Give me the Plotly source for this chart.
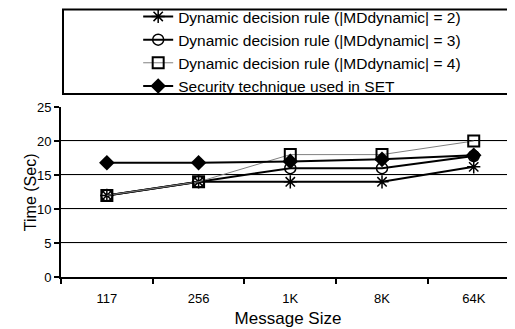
import plotly.graph_objects as go

categories = ["117", "256", "1K", "8K", "64K"]
md2 = [12, 14, 14, 14, 16.2]
md3 = [12, 14, 16, 16, 17.8]
md4 = [12, 14, 18, 18, 20]
set_tech = [16.8, 16.8, 17.0, 17.3, 17.9]
series_names = [
    "Dynamic decision rule (|MDdynamic| = 2)",
    "Dynamic decision rule (|MDdynamic| = 3)",
    "Dynamic decision rule (|MDdynamic| = 4)",
    "Security technique used in SET",
]
y_ticks = [0, 5, 10, 15, 20, 25]
grid_values = [5, 10, 15, 20]

FONT = "Liberation Sans, Arial, sans-serif"

fig = go.Figure()
fig.add_trace(go.Scatter(
    x=categories, y=md2, name=series_names[0], mode="lines+markers",
    line=dict(color="black", width=2),
    marker=dict(symbol="asterisk-open", size=11, color="black", line=dict(color="black", width=1.5)),
))
fig.add_trace(go.Scatter(
    x=categories, y=md3, name=series_names[1], mode="lines+markers",
    line=dict(color="black", width=2),
    marker=dict(symbol="circle-open", size=11, color="black", line=dict(color="black", width=1.5)),
))
fig.add_trace(go.Scatter(
    x=categories, y=md4, name=series_names[2], mode="lines+markers",
    line=dict(color="#808080", width=1),
    marker=dict(symbol="square-open", size=11, color="black", line=dict(color="black", width=2)),
))
fig.add_trace(go.Scatter(
    x=categories, y=set_tech, name=series_names[3], mode="lines+markers",
    line=dict(color="black", width=2),
    marker=dict(symbol="diamond", size=12, color="black"),
))

for g in grid_values:
    fig.add_shape(type="line", xref="paper", x0=0, x1=1, yref="y", y0=g, y1=g,
                  line=dict(color="black", width=2), layer="below")

# legend frame
fig.add_shape(type="rect", xref="paper", yref="paper",
              x0=0.0044, x1=0.998, y0=1.076, y1=1.574,
              line=dict(color="black", width=2))

fig.add_annotation(text="Time (Sec)", xref="paper", yref="paper",
                   x=-0.068, y=0.5, xanchor="center", yanchor="middle",
                   textangle=-90, showarrow=False,
                   font=dict(family=FONT, size=16, color="black"))

fig.update_layout(
    width=515, height=329,
    margin=dict(l=53, r=8, t=99, b=60, autoexpand=False),
    paper_bgcolor="white", plot_bgcolor="white",
    font=dict(family=FONT, size=13, color="black"),
    showlegend=True,
    legend=dict(x=0.17, y=1.63, xanchor="left", yanchor="top",
                bgcolor="rgba(0,0,0,0)", borderwidth=0,
                font=dict(family=FONT, size=15.5, color="black"),
                tracegroupgap=0),
    xaxis=dict(type="category", range=[-0.5, 4.45], showline=True, linecolor="black",
               linewidth=2, ticks="outside", tickson="boundaries", ticklen=5,
               tickwidth=2, tickcolor="black", showgrid=False, zeroline=False,
               ticklabelstandoff=8,
               title=dict(text="Message Size", font=dict(family=FONT, size=17), standoff=8),
               tickfont=dict(size=13)),
    yaxis=dict(range=[0, 25], tickvals=y_ticks, showline=True, linecolor="black",
               linewidth=2, ticks="outside", ticklen=5, tickwidth=2, tickcolor="black",
               showgrid=True, gridcolor="#ececec", gridwidth=1, zeroline=False,
               tickfont=dict(size=13)),
)

fig.write_html("out.html")
